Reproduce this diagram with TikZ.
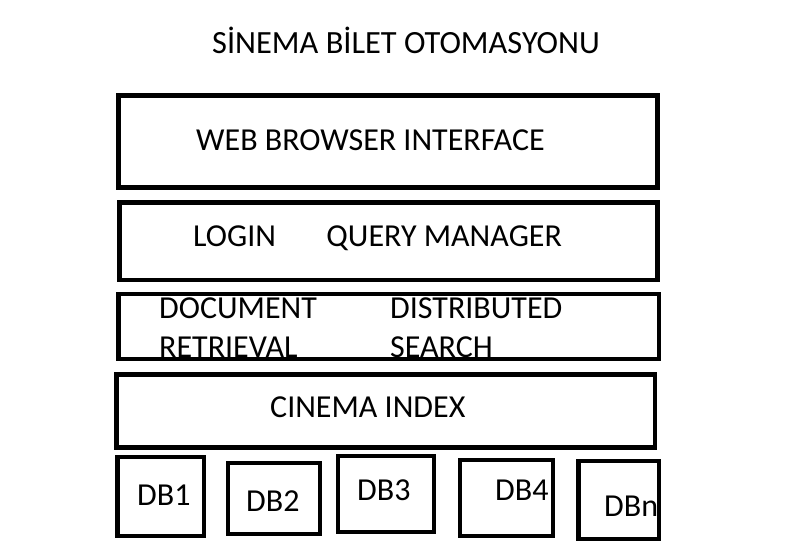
\documentclass[tikz,border=0pt]{standalone}
\usepackage{fontspec}
\setmainfont{Carlito}
\usetikzlibrary{positioning}

\begin{document}
\begin{tikzpicture}[
x=1pt, y=-1pt,
layer/.style={rectangle,
  draw=black,
  line width=4.7pt,
  inner sep=0pt,
},
txt/.style={anchor=base west,
  inner sep=0pt,
  font=\fontsize{32}{38}\selectfont,
},
]
\useasboundingbox (0,0) rectangle (802,555);

\node[txt, font=\fontsize{32.4}{38}\selectfont] (title) at (212,53)
    {SİNEMA BİLET OTOMASYONU};

% layers
\node[layer, minimum width=539pt, minimum height=91.7pt] (web) at (387.8,141.65) {};
\node[layer, minimum width=537.6pt, minimum height=77.7pt] (qry) at (388.5,241.2) {};
\node[layer, minimum width=540.7pt, minimum height=65pt] (retr) at (388.65,326.5) {};
\node[layer, minimum width=538.7pt, minimum height=72.6pt] (index) at (385.65,411) {};

% databases
\node[layer, minimum width=86.3pt, minimum height=79pt] (db1) at (160.85,496.5) {};
\node[layer, minimum width=92pt, minimum height=71pt] (db2) at (274,498.5) {};
\node[layer, minimum width=96pt, minimum height=76pt] (db3) at (386,494) {};
\node[layer, minimum width=93pt, minimum height=76pt] (db4) at (506.5,498) {};
\node[layer, minimum width=80.3pt, minimum height=78pt] (dbn) at (618.85,500) {};

% texts
\node[txt] (webtxt) at (196,150) {WEB BROWSER INTERFACE};
\node[txt] (login) at (193,246) {LOGIN};
\node[txt, base right=50pt of login] (query) {QUERY MANAGER};
\node[txt] (doc) at (159,318) {DOCUMENT};
\node[txt] (retrtxt) at (159,357) {RETRIEVAL};
\node[txt] (dist) at (390,318) {DISTRIBUTED};
\node[txt] (search) at (390,357) {SEARCH};
\node[txt] (indextxt) at (270,417) {CINEMA INDEX};

\node[txt] (db1txt) at (137,505) {DB1};
\node[txt] (db2txt) at (246,511) {DB2};
\node[txt] (db3txt) at (357,500) {DB3};
\node[txt] (db4txt) at (495,500) {DB4};
\node[txt] (dbntxt) at (604,516) {DBn};
\end{tikzpicture}
\end{document}
